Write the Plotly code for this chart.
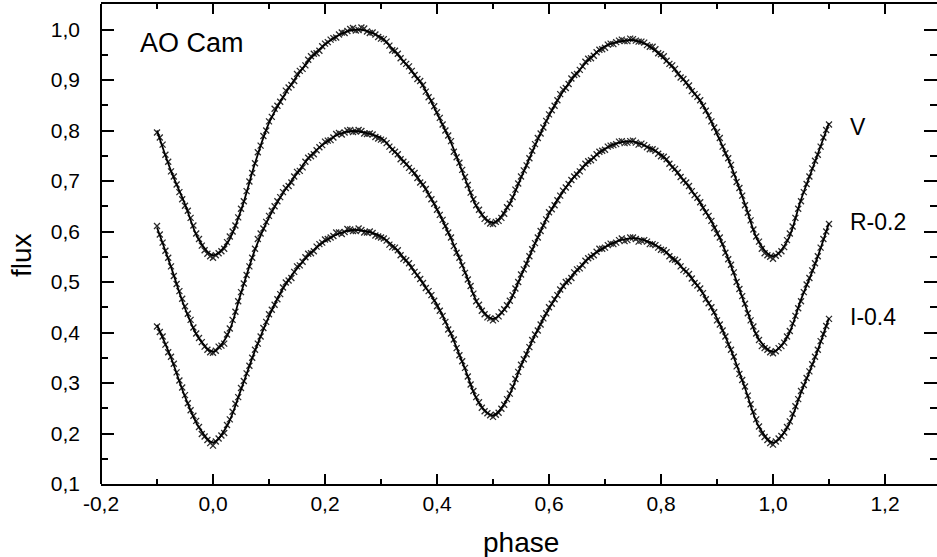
import plotly.graph_objects as go

# ---- data ----
fit_phase = [-0.100, -0.075, -0.050, -0.025, 0.000, 0.025, 0.050, 0.075, 0.100, 0.125,
             0.150, 0.175, 0.200, 0.225, 0.250, 0.275, 0.300, 0.325, 0.350, 0.375,
             0.400, 0.425, 0.450, 0.475, 0.500, 0.525, 0.550, 0.575, 0.600, 0.625,
             0.650, 0.675, 0.700, 0.725, 0.750, 0.775, 0.800, 0.825, 0.850, 0.875,
             0.900, 0.925, 0.950, 0.975, 1.000, 1.025, 1.050, 1.075, 1.100]

fit_V = [0.800, 0.720, 0.654, 0.583, 0.553, 0.576, 0.642, 0.735, 0.815, 0.866,
         0.908, 0.944, 0.970, 0.989, 0.999, 0.997, 0.984, 0.956, 0.924, 0.888,
         0.834, 0.776, 0.705, 0.641, 0.617, 0.646, 0.706, 0.770, 0.829, 0.877,
         0.914, 0.945, 0.967, 0.976, 0.979, 0.970, 0.948, 0.920, 0.887, 0.850,
         0.793, 0.730, 0.654, 0.578, 0.551, 0.580, 0.663, 0.738, 0.815]

fit_R = [0.608, 0.530, 0.448, 0.388, 0.362, 0.393, 0.478, 0.564, 0.628, 0.676,
         0.715, 0.751, 0.775, 0.793, 0.799, 0.795, 0.785, 0.757, 0.728, 0.692,
         0.644, 0.586, 0.520, 0.453, 0.427, 0.452, 0.512, 0.576, 0.635, 0.679,
         0.715, 0.742, 0.764, 0.776, 0.778, 0.768, 0.752, 0.722, 0.688, 0.648,
         0.599, 0.532, 0.455, 0.386, 0.362, 0.390, 0.465, 0.535, 0.617]

fit_I = [0.415, 0.350, 0.273, 0.212, 0.182, 0.215, 0.287, 0.364, 0.432, 0.487,
         0.527, 0.558, 0.581, 0.596, 0.603, 0.600, 0.590, 0.567, 0.535, 0.497,
         0.455, 0.397, 0.328, 0.260, 0.236, 0.267, 0.334, 0.395, 0.447, 0.490,
         0.523, 0.551, 0.569, 0.582, 0.587, 0.581, 0.567, 0.543, 0.514, 0.477,
         0.428, 0.365, 0.290, 0.213, 0.182, 0.211, 0.281, 0.350, 0.429]

# observed points, first night
obs_phase = [-0.10, -0.09, -0.08, -0.07, -0.06, -0.05, -0.04, -0.03, -0.02, -0.01,
             0.00, 0.01, 0.02, 0.03, 0.04, 0.05, 0.06, 0.07, 0.08, 0.09,
             0.10, 0.11, 0.12, 0.13, 0.14, 0.15, 0.16, 0.17, 0.18, 0.19,
             0.20, 0.21, 0.22, 0.23, 0.24, 0.25, 0.26, 0.27, 0.28, 0.29,
             0.30, 0.31, 0.32, 0.33, 0.34, 0.35, 0.36, 0.37, 0.38, 0.39,
             0.40, 0.41, 0.42, 0.43, 0.44, 0.45, 0.46, 0.47, 0.48, 0.49,
             0.50, 0.51, 0.52, 0.53, 0.54, 0.55, 0.56, 0.57, 0.58, 0.59,
             0.60, 0.61, 0.62, 0.63, 0.64, 0.65, 0.66, 0.67, 0.68, 0.69,
             0.70, 0.71, 0.72, 0.73, 0.74, 0.75, 0.76, 0.77, 0.78, 0.79,
             0.80, 0.81, 0.82, 0.83, 0.84, 0.85, 0.86, 0.87, 0.88, 0.89,
             0.90, 0.91, 0.92, 0.93, 0.94, 0.95, 0.96, 0.97, 0.98, 0.99,
             1.00, 1.01, 1.02, 1.03, 1.04, 1.05, 1.06, 1.07, 1.08, 1.09, 1.10]

obs_V = [0.796, 0.772, 0.738, 0.709, 0.678, 0.651, 0.627, 0.596, 0.572, 0.556,
         0.548, 0.557, 0.566, 0.590, 0.612, 0.645, 0.680, 0.716, 0.757, 0.789,
         0.818, 0.843, 0.857, 0.879, 0.890, 0.912, 0.922, 0.940, 0.952, 0.958,
         0.972, 0.980, 0.984, 0.994, 0.997, 1.003, 0.999, 1.002, 0.993, 0.990,
         0.982, 0.976, 0.959, 0.952, 0.936, 0.927, 0.910, 0.898, 0.877, 0.859,
         0.836, 0.812, 0.790, 0.758, 0.736, 0.708, 0.677, 0.652, 0.633, 0.620,
         0.615, 0.621, 0.635, 0.655, 0.683, 0.709, 0.731, 0.760, 0.785, 0.806,
         0.832, 0.849, 0.872, 0.884, 0.903, 0.912, 0.927, 0.942, 0.948, 0.960,
         0.964, 0.972, 0.975, 0.980, 0.977, 0.981, 0.976, 0.974, 0.966, 0.961,
         0.951, 0.938, 0.929, 0.912, 0.902, 0.889, 0.872, 0.860, 0.839, 0.818,
         0.797, 0.768, 0.745, 0.713, 0.686, 0.652, 0.622, 0.590, 0.566, 0.553,
         0.546, 0.556, 0.569, 0.596, 0.627, 0.660, 0.694, 0.725, 0.752, 0.786, 0.812]

obs_R = [0.611, 0.578, 0.548, 0.512, 0.482, 0.452, 0.425, 0.398, 0.381, 0.366,
         0.360, 0.372, 0.378, 0.408, 0.441, 0.480, 0.514, 0.548, 0.585, 0.606,
         0.631, 0.650, 0.668, 0.686, 0.697, 0.718, 0.727, 0.746, 0.753, 0.767,
         0.778, 0.781, 0.793, 0.792, 0.800, 0.797, 0.801, 0.794, 0.794, 0.787,
         0.782, 0.775, 0.762, 0.753, 0.738, 0.726, 0.716, 0.697, 0.684, 0.664,
         0.643, 0.623, 0.598, 0.571, 0.548, 0.518, 0.492, 0.462, 0.443, 0.430,
         0.424, 0.432, 0.446, 0.463, 0.487, 0.515, 0.536, 0.565, 0.588, 0.612,
         0.638, 0.652, 0.671, 0.687, 0.702, 0.713, 0.727, 0.739, 0.746, 0.758,
         0.762, 0.770, 0.773, 0.779, 0.776, 0.780, 0.772, 0.771, 0.763, 0.760,
         0.749, 0.743, 0.727, 0.717, 0.701, 0.690, 0.672, 0.658, 0.638, 0.621,
         0.596, 0.575, 0.545, 0.519, 0.486, 0.457, 0.424, 0.398, 0.373, 0.366,
         0.359, 0.369, 0.380, 0.403, 0.433, 0.462, 0.495, 0.523, 0.551, 0.585, 0.615]

obs_I = [0.412, 0.392, 0.361, 0.338, 0.305, 0.276, 0.246, 0.225, 0.199, 0.187,
         0.176, 0.190, 0.201, 0.228, 0.259, 0.290, 0.319, 0.350, 0.378, 0.409,
         0.436, 0.455, 0.476, 0.499, 0.508, 0.531, 0.540, 0.556, 0.561, 0.575,
         0.584, 0.588, 0.598, 0.595, 0.605, 0.601, 0.606, 0.598, 0.600, 0.592,
         0.588, 0.582, 0.569, 0.563, 0.546, 0.537, 0.520, 0.506, 0.488, 0.474,
         0.452, 0.433, 0.406, 0.386, 0.355, 0.330, 0.297, 0.272, 0.251, 0.240,
         0.233, 0.241, 0.257, 0.279, 0.308, 0.336, 0.357, 0.385, 0.404, 0.428,
         0.450, 0.466, 0.485, 0.500, 0.508, 0.525, 0.533, 0.547, 0.553, 0.566,
         0.568, 0.576, 0.578, 0.586, 0.583, 0.588, 0.580, 0.583, 0.575, 0.573,
         0.564, 0.559, 0.545, 0.540, 0.524, 0.516, 0.498, 0.487, 0.466, 0.450,
         0.424, 0.404, 0.376, 0.352, 0.318, 0.293, 0.258, 0.228, 0.200, 0.187,
         0.178, 0.190, 0.202, 0.224, 0.254, 0.284, 0.310, 0.337, 0.366, 0.397, 0.427]

# observed points, second night
obs2_phase = [-0.095, -0.085, -0.075, -0.065, -0.055, -0.045, -0.035, -0.025, -0.015, -0.005,
              0.005, 0.015, 0.025, 0.035, 0.045, 0.055, 0.065, 0.075, 0.085, 0.095,
              0.105, 0.115, 0.125, 0.135, 0.145, 0.155, 0.165, 0.175, 0.185, 0.195,
              0.205, 0.215, 0.225, 0.235, 0.245, 0.255, 0.265, 0.275, 0.285, 0.295,
              0.305, 0.315, 0.325, 0.335, 0.345, 0.355, 0.365, 0.375, 0.385, 0.395,
              0.405, 0.415, 0.425, 0.435, 0.445, 0.455, 0.465, 0.475, 0.485, 0.495,
              0.505, 0.515, 0.525, 0.535, 0.545, 0.555, 0.565, 0.575, 0.585, 0.595,
              0.605, 0.615, 0.625, 0.635, 0.645, 0.655, 0.665, 0.675, 0.685, 0.695,
              0.705, 0.715, 0.725, 0.735, 0.745, 0.755, 0.765, 0.775, 0.785, 0.795,
              0.805, 0.815, 0.825, 0.835, 0.845, 0.855, 0.865, 0.875, 0.885, 0.895,
              0.905, 0.915, 0.925, 0.935, 0.945, 0.955, 0.965, 0.975, 0.985, 0.995,
              1.005, 1.015, 1.025, 1.035, 1.045, 1.055, 1.065, 1.075, 1.085, 1.095]

obs2_V = [0.786, 0.752, 0.719, 0.693, 0.664, 0.641, 0.612, 0.585, 0.563, 0.551,
          0.553, 0.561, 0.579, 0.600, 0.628, 0.660, 0.699, 0.735, 0.770, 0.800,
          0.827, 0.849, 0.866, 0.885, 0.898, 0.918, 0.929, 0.947, 0.953, 0.967,
          0.975, 0.983, 0.990, 0.993, 1.001, 0.998, 1.004, 0.996, 0.994, 0.985,
          0.981, 0.968, 0.958, 0.943, 0.932, 0.918, 0.902, 0.890, 0.866, 0.848,
          0.825, 0.800, 0.779, 0.747, 0.722, 0.692, 0.664, 0.643, 0.625, 0.616,
          0.619, 0.627, 0.648, 0.668, 0.695, 0.721, 0.745, 0.773, 0.794, 0.819,
          0.840, 0.860, 0.881, 0.892, 0.910, 0.920, 0.936, 0.943, 0.955, 0.961,
          0.970, 0.971, 0.978, 0.977, 0.982, 0.978, 0.976, 0.969, 0.966, 0.953,
          0.947, 0.932, 0.922, 0.905, 0.895, 0.878, 0.867, 0.849, 0.830, 0.806,
          0.785, 0.755, 0.732, 0.698, 0.671, 0.637, 0.604, 0.580, 0.557, 0.550,
          0.552, 0.561, 0.583, 0.610, 0.645, 0.678, 0.709, 0.740, 0.768, 0.801]

obs2_R = [0.594, 0.562, 0.531, 0.496, 0.467, 0.437, 0.410, 0.389, 0.372, 0.361,
          0.364, 0.374, 0.396, 0.425, 0.462, 0.497, 0.531, 0.566, 0.596, 0.619,
          0.641, 0.660, 0.678, 0.690, 0.709, 0.720, 0.738, 0.749, 0.761, 0.771,
          0.780, 0.786, 0.795, 0.796, 0.801, 0.798, 0.799, 0.793, 0.792, 0.784,
          0.780, 0.768, 0.758, 0.743, 0.733, 0.720, 0.706, 0.693, 0.673, 0.655,
          0.633, 0.611, 0.588, 0.558, 0.533, 0.505, 0.477, 0.455, 0.436, 0.428,
          0.427, 0.440, 0.454, 0.474, 0.500, 0.525, 0.551, 0.577, 0.601, 0.624,
          0.644, 0.662, 0.681, 0.694, 0.709, 0.719, 0.734, 0.741, 0.753, 0.760,
          0.768, 0.771, 0.778, 0.775, 0.779, 0.776, 0.774, 0.767, 0.763, 0.754,
          0.748, 0.734, 0.724, 0.708, 0.697, 0.680, 0.667, 0.647, 0.631, 0.607,
          0.588, 0.558, 0.534, 0.500, 0.472, 0.438, 0.412, 0.385, 0.369, 0.361,
          0.363, 0.373, 0.392, 0.418, 0.448, 0.480, 0.508, 0.537, 0.568, 0.600]

obs2_I = [0.401, 0.376, 0.352, 0.321, 0.291, 0.260, 0.235, 0.213, 0.194, 0.181,
          0.184, 0.196, 0.217, 0.243, 0.272, 0.304, 0.334, 0.366, 0.392, 0.421,
          0.445, 0.466, 0.489, 0.503, 0.520, 0.533, 0.549, 0.557, 0.570, 0.578,
          0.585, 0.591, 0.598, 0.599, 0.604, 0.601, 0.603, 0.598, 0.597, 0.590,
          0.586, 0.574, 0.568, 0.553, 0.543, 0.529, 0.514, 0.498, 0.482, 0.463,
          0.443, 0.421, 0.398, 0.369, 0.343, 0.313, 0.284, 0.262, 0.244, 0.236,
          0.237, 0.249, 0.268, 0.293, 0.322, 0.347, 0.371, 0.396, 0.416, 0.438,
          0.457, 0.474, 0.492, 0.502, 0.519, 0.527, 0.542, 0.550, 0.560, 0.566,
          0.573, 0.575, 0.583, 0.581, 0.588, 0.585, 0.582, 0.580, 0.575, 0.568,
          0.563, 0.551, 0.544, 0.531, 0.521, 0.507, 0.493, 0.478, 0.458, 0.440,
          0.416, 0.392, 0.366, 0.333, 0.306, 0.275, 0.243, 0.214, 0.193, 0.181,
          0.184, 0.195, 0.213, 0.239, 0.268, 0.296, 0.323, 0.352, 0.383, 0.413]

band_labels = ["V", "R-0.2", "I-0.4"]
band_label_y = [0.806, 0.618, 0.430]

x_tickvals = [-0.2, 0.0, 0.2, 0.4, 0.6, 0.8, 1.0, 1.2]
x_ticktext = ["-0,2", "0,0", "0,2", "0,4", "0,6", "0,8", "1,0", "1,2"]
x_minorvals = [-0.1, 0.1, 0.3, 0.5, 0.7, 0.9, 1.1]
y_tickvals = [0.1, 0.2, 0.3, 0.4, 0.5, 0.6, 0.7, 0.8, 0.9, 1.0]
y_ticktext = ["0,1", "0,2", "0,3", "0,4", "0,5", "0,6", "0,7", "0,8", "0,9", "1,0"]
y_minorvals = [0.15, 0.25, 0.35, 0.45, 0.55, 0.65, 0.75, 0.85, 0.95, 1.05]

FONT = "Liberation Sans, Arial, sans-serif"

fig = go.Figure()

marker_style = dict(symbol="x-thin", size=6, color="#2a2a2a",
                    line=dict(width=1.3, color="#2a2a2a"))

for ph, series in [(obs_phase, obs_V), (obs_phase, obs_R), (obs_phase, obs_I),
                   (obs2_phase, obs2_V), (obs2_phase, obs2_R), (obs2_phase, obs2_I)]:
    fig.add_trace(go.Scatter(
        x=ph, y=series, mode="markers", marker=marker_style,
        showlegend=False, hoverinfo="skip"))

for fit in [fit_V, fit_R, fit_I]:
    fig.add_trace(go.Scatter(
        x=fit_phase, y=fit, mode="lines", line_shape="spline",
        line=dict(color="black", width=1.8),
        showlegend=False, hoverinfo="skip"))

fig.add_annotation(x=-0.134, y=0.974, text="AO Cam", showarrow=False,
                   xanchor="left", yanchor="middle",
                   font=dict(family=FONT, size=27, color="black"))

for lab, ly in zip(band_labels, band_label_y):
    fig.add_annotation(x=1.134, y=ly, text=lab, showarrow=False,
                       xanchor="left", yanchor="middle",
                       font=dict(family=FONT, size=23, color="black"))

# axis titles
fig.add_annotation(xref="paper", yref="paper", x=0.5024, y=-0.1229,
                   text="phase", showarrow=False, xanchor="center", yanchor="middle",
                   font=dict(family=FONT, size=28, color="black"))
fig.add_annotation(xref="paper", yref="paper", x=-0.0957, y=0.477,
                   text="flux", showarrow=False, xanchor="center", yanchor="middle",
                   textangle=-90,
                   font=dict(family=FONT, size=28, color="black"))

# left frame line
fig.add_shape(type="line", xref="paper", yref="paper", x0=0, x1=0, y0=0, y1=1,
              line=dict(color="black", width=2))

fig.update_xaxes(
    range=[-0.2, -0.2 + 836 / 560], showgrid=False, zeroline=False,
    showline=True, linecolor="black", linewidth=2, mirror="allticks",
    ticks="inside", ticklen=10, tickwidth=1.5, tickcolor="black",
    tickmode="array", tickvals=x_tickvals, ticktext=x_ticktext,
    tickfont=dict(family=FONT, size=21, color="black"),
    minor=dict(tickmode="array", tickvals=x_minorvals, ticks="inside",
               ticklen=5, tickwidth=1.5, tickcolor="black"),
)
fig.update_yaxes(
    range=[0.1, 0.1 + 480 / 505], showgrid=False, zeroline=False,
    showline=False, mirror="allticks",
    ticks="inside", ticklen=13, tickwidth=1.5, tickcolor="black",
    tickmode="array", tickvals=y_tickvals, ticktext=y_ticktext,
    tickfont=dict(family=FONT, size=21, color="black"),
    ticklabelstandoff=20,
    minor=dict(tickmode="array", tickvals=y_minorvals, ticks="inside",
               ticklen=7, tickwidth=1.5, tickcolor="black"),
)

fig.update_layout(
    width=937, height=557,
    margin=dict(l=101, r=0, t=4, b=73),
    paper_bgcolor="white", plot_bgcolor="white",
    font=dict(family=FONT, color="black"),
)

fig.write_html("out.html")
